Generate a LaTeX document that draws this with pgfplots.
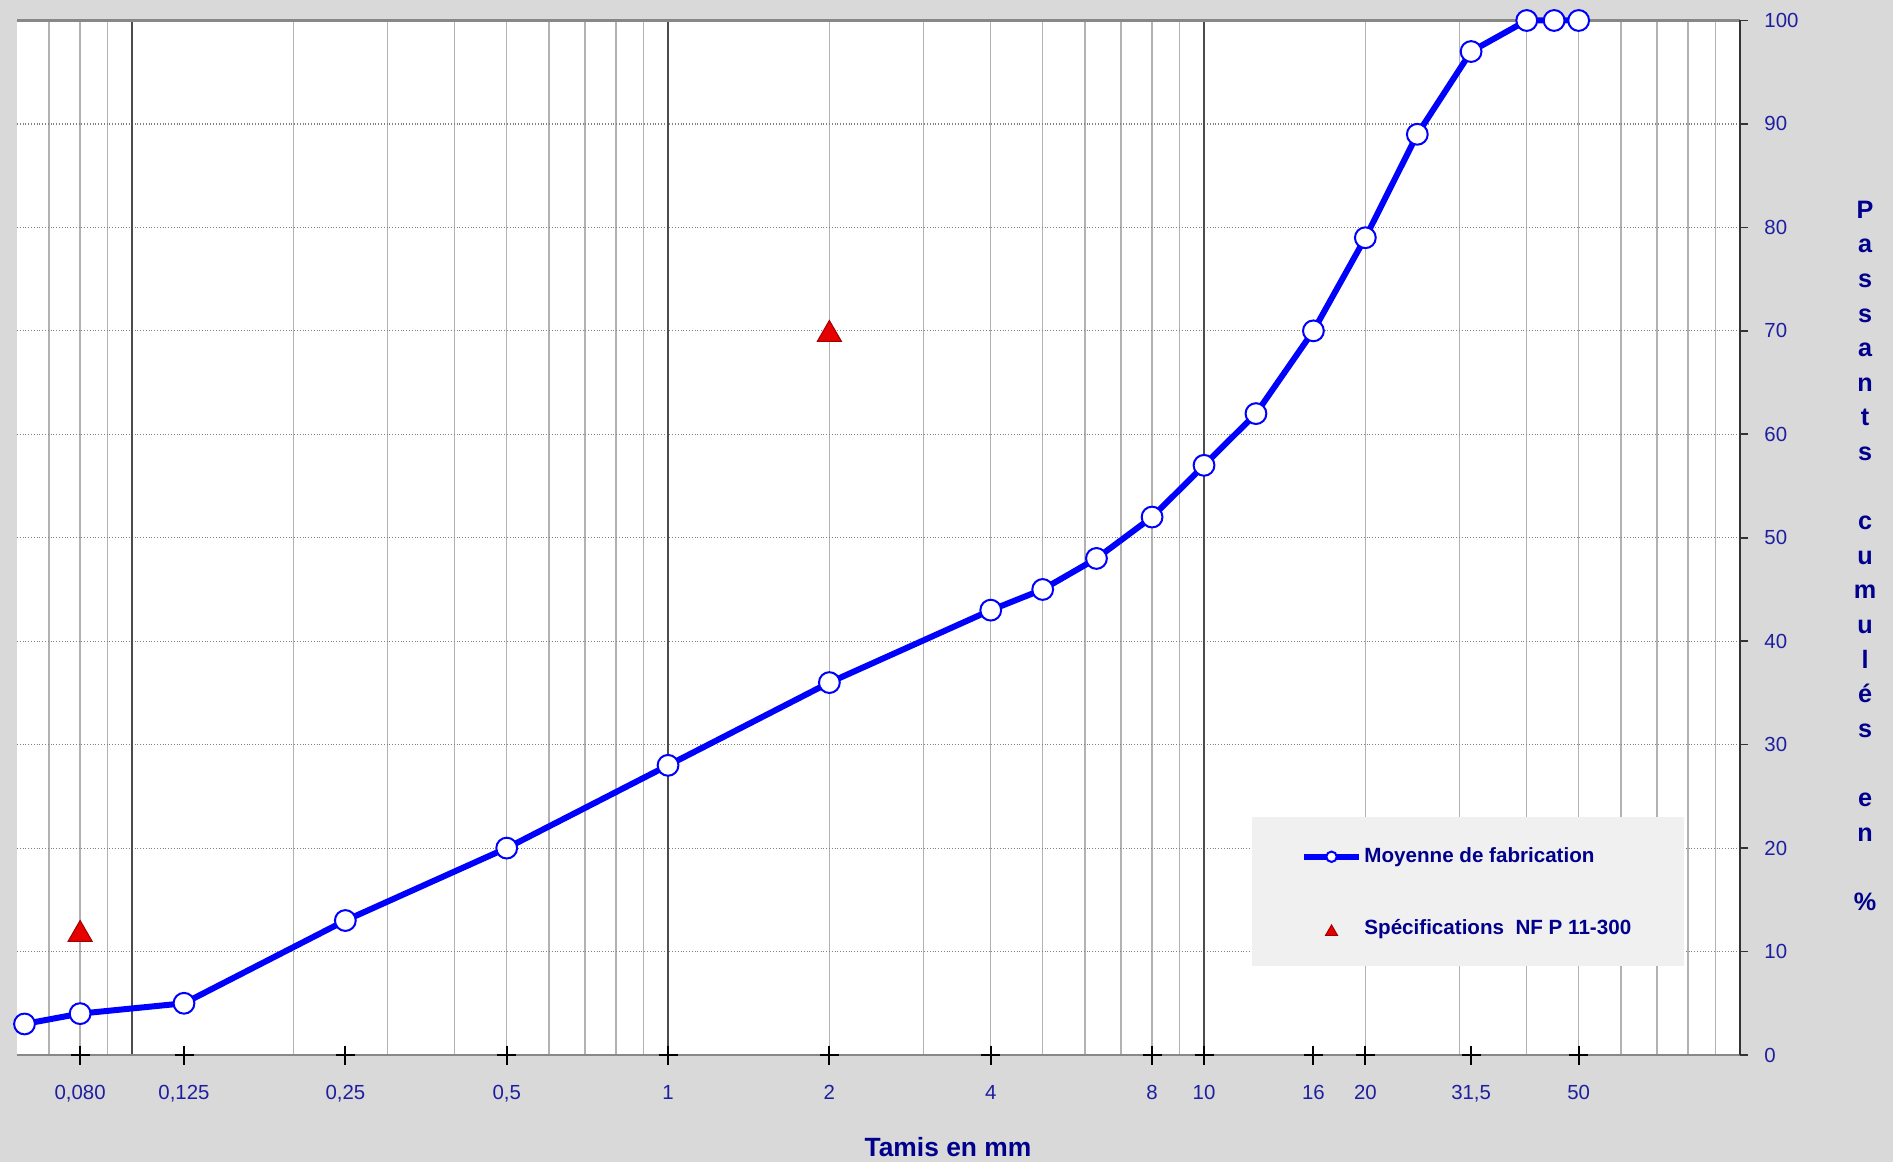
\documentclass[border=0pt]{standalone}
\usepackage{pgfplots}
\pgfplotsset{compat=1.18}
\usepackage{fontspec}
\setmainfont{Liberation Sans}
\usetikzlibrary{backgrounds}
\definecolor{bgray}{RGB}{217,217,217}
\definecolor{leggray}{RGB}{240,240,240}
\definecolor{tickblue}{RGB}{30,30,160}
\definecolor{titleblue}{RGB}{0,0,140}
\definecolor{lineblue}{RGB}{0,0,255}
\definecolor{specred}{RGB}{230,0,0}
\definecolor{axgray}{RGB}{136,136,136}

\pgfplotsset{
    leg line/.style={legend image code/.code={\draw[mark repeat=2, mark phase=2, ##1, every mark/.append style={scale=0.5}]
        plot coordinates {(0pt,0pt)(13.75pt,0pt)(27.5pt,0pt)};}},
    leg mark/.style={legend image code/.code={\draw[##1, every mark/.append style={scale=0.5}]
        plot coordinates {(13.75pt,0pt)};}},
}

\begin{document}
\begin{tikzpicture}
\begin{axis}[
    name=ax, at={(0,0)}, anchor=south west,
    scale only axis, width=861.5pt, height=517.25pt,
    xmode=log, xmin=0.061, xmax=100,
    ymin=0, ymax=100,
    clip=false,
    axis background/.style={fill=white},
    separate axis lines,
    axis line style={draw=none},
    xtick={0.08,0.125,0.25,0.5,1,2,4,8,10,16,20,31.5,50},
    xticklabels={{0,080},{0,125},{0,25},{0,5},1,2,4,8,10,16,20,{31,5},50},
    xtick pos=left,
    xtick style={draw=none},
    minor xtick={0.07,0.08,0.09,0.2,0.3,0.4,0.5,0.6,0.7,0.8,0.9,2,3,4,5,6,7,8,9,20,30,40,50,60,70,80,90},
    xminorgrids=true,
    minor grid style={color=black!30, line width=0.7pt},
    minor tick length=0pt,
    extra x ticks={0.1,1,10},
    extra x tick labels={},
    extra x tick style={xmajorgrids=true, major grid style={solid, black!70, line width=0.8pt}},
    ytick={0,10,...,100},
    ymajorgrids=true,
    major grid style={densely dotted, color=black!50, line width=0.6pt},
    ytick pos=right, yticklabel pos=right,
    ytick align=outside,
    major tick length=4pt,
    ytick style={color=black!80, line width=0.8pt},
    /pgf/number format/assume math mode=true,
    tick label style={font=\fontsize{10.2}{12}\selectfont, text=tickblue},
    xticklabel style={anchor=base, yshift=-22pt},
    yticklabel style={anchor=west, inner sep=0pt, xshift=8pt},
    legend style={at={(axis description cs:0.745,0.2030)}, anchor=north west,
        draw=none, fill=none, inner sep=0pt, row sep=24.4pt,
        font=\bfseries\fontsize{10.3}{12}\selectfont, text=titleblue,
        nodes={inner sep=1.2pt}},
    legend cell align=left,
]
% legend panel
\fill[leggray] (axis description cs:0.7168,0.2301) rectangle (axis description cs:0.9675,0.0860);
% frame
\draw[axgray, line width=1.2pt] (rel axis cs:0,1) -- (rel axis cs:1,1);
\draw[axgray, line width=1.2pt] (rel axis cs:0,0) -- (rel axis cs:1,0);
\draw[black!80, line width=1.2pt] (rel axis cs:1,0) -- (rel axis cs:1,1);
% tick crosses on the bottom axis
\addplot[forget plot, only marks, mark=+, mark size=4.75pt, black, line width=1pt]
    coordinates {(0.08,0)(0.125,0)(0.25,0)(0.5,0)(1,0)(2,0)(4,0)(8,0)(10,0)(16,0)(20,0)(31.5,0)(50,0)};

\addplot[lineblue, line width=3pt, mark=*, mark size=5.2pt,
    mark options={solid, fill=white, draw=lineblue, line width=1pt}, leg line]
    coordinates {(0.063,3)(0.08,4)(0.125,5)(0.25,13)(0.5,20)(1,28)(2,36)(4,43)(5,45)(6.3,48)
    (8,52)(10,57)(12.5,62)(16,70)(20,79)(25,89)(31.5,97)(40,100)(45,100)(50,100)};
\addlegendentry{Moyenne de fabrication}

\addplot[only marks, mark=triangle*, mark size=7pt,
    mark options={fill=specred, draw=specred!70!black, line width=0.5pt, yshift=-1.8pt}, leg mark]
    coordinates {(0.08,12)(2,70)};
\addlegendentry{Spécifications\ \ NF P 11-300}
\end{axis}

\node[anchor=base, inner sep=0pt, font=\bfseries\fontsize{13.2}{15}\selectfont, text=titleblue]
    at (465.5pt,-50.5pt) {Tamis en mm};
\foreach \c/\i in {P/0,a/1,s/2,s/3,a/4,n/5,t/6,s/7,c/9,u/10,m/11,u/12,l/13,é/14,s/15,e/17,n/18,\%/20}
    \node[anchor=base, inner sep=0pt, font=\bfseries\fontsize{12.6}{14}\selectfont, text=titleblue]
        at ({924pt},{418.3pt-\i*17.3pt}) {\c};

\begin{scope}[on background layer]
\fill[bgray] (-8.5pt,-53.5pt) rectangle (938pt,527.5pt);
\end{scope}
\end{tikzpicture}
\end{document}
